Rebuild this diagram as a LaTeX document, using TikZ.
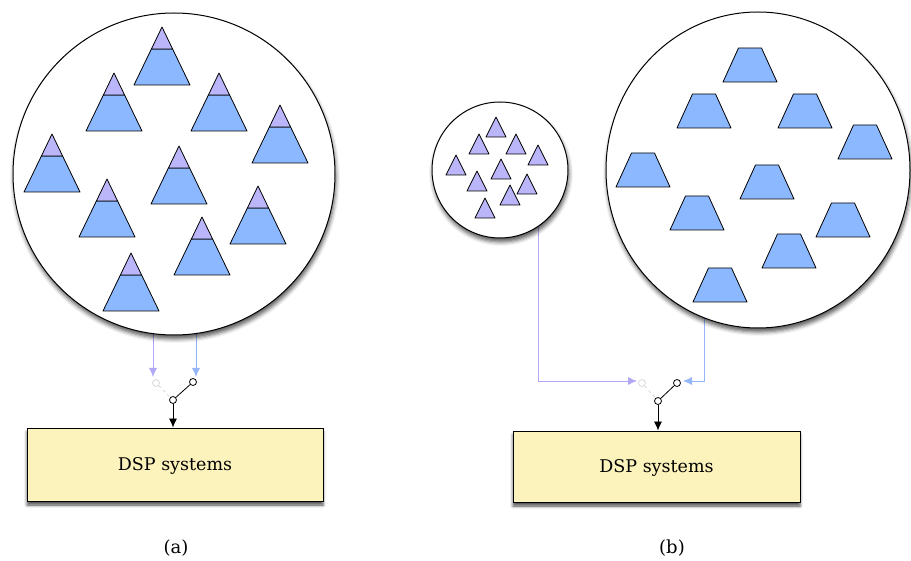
\documentclass[tikz,border=0pt]{standalone}
\usepackage{fontspec}
\setmainfont{DejaVu Serif}
\usetikzlibrary{shapes.geometric,arrows.meta,shadows.blur}

\definecolor{skyblue}{RGB}{140,184,255}
\definecolor{lilac}{RGB}{187,182,250}
\definecolor{paleyellow}{RGB}{252,242,188}
\definecolor{lilacline}{RGB}{178,168,248}
\definecolor{blueline}{RGB}{150,182,250}

\begin{document}
\begin{tikzpicture}[x=1pt,y=-1pt]
    \tikzstyle{pool}=[draw,line width=1pt,fill=white,inner sep=0pt,blur shadow={shadow xshift=1pt,shadow yshift=-4pt,shadow blur radius=4pt,shadow opacity=65}]
    \tikzstyle{hill}=[fill=skyblue,draw,line width=0.8pt,line join=round]
    \tikzstyle{peak}=[fill=lilac,draw,line width=0.8pt,line join=round]
    \tikzstyle{contact}=[circle,draw,fill=white,line width=0.8pt,inner sep=0pt,minimum size=7pt]
    \tikzstyle{offcontact}=[contact,draw=gray!30]
    \tikzstyle{dspbox}=[draw,line width=0.8pt,fill=paleyellow,font=\fontsize{17.5}{20}\selectfont,text depth=0pt,blur shadow={shadow xshift=0pt,shadow yshift=-4pt,shadow blur radius=3pt,shadow opacity=70}]
    \tikzstyle{caption}=[font=\fontsize{18}{21}\selectfont]
    \tikzset{>={Latex[length=9pt,width=8pt]}}

    \useasboundingbox (0,0) rectangle (911,561);

    % (a) one pool of composite signals
    \begin{scope}

    \coordinate (acenter) at (174,174);
    \coordinate (aleftin) at (153,377);
    \coordinate (arightin) at (196,377);
    \draw[lilacline,line width=0.8pt,->] (aleftin |- acenter) -- (aleftin);
    \draw[blueline,line width=0.8pt,->] (arightin |- acenter) -- (arightin);

    \node[pool,circle,minimum size=322pt](acircle) at (acenter){};
    \foreach \x/\y in {162/27,114/73,219/73,280/105,52/134,179/146,107/179,258/186,202/217,131/253}{
        \filldraw[hill] (\x-28,\y+58) -- (\x+28,\y+58) -- (\x+10.6,\y+22) -- (\x-10.6,\y+22) -- cycle;
        \filldraw[peak] (\x,\y) -- (\x+10.6,\y+22) -- (\x-10.6,\y+22) -- cycle;
    }

    \node[offcontact](aoff) at (156,383){};
    \node[contact](aon) at (193,382){};
    \node[contact](apivot) at (173,400){};
    \draw[gray!30,line width=0.8pt,dash pattern=on 3pt off 3pt] (aoff) -- (apivot);
    \draw[line width=0.8pt] (apivot) -- (aon);

    \node[dspbox,minimum width=296pt,minimum height=73pt](abox) at (175,464.5){DSP systems};
    \draw[line width=0.8pt,->] (apivot) -- (apivot |- abox.north);
    \node[caption](alabel) at (176,548){(a)};

    \end{scope}

    % (b) two separate pools
    \begin{scope}

    \coordinate (bsmallcenter) at (500,170);
    \coordinate (bbigcenter) at (758,170);
    \coordinate (bleftcorner) at (538,381);
    \coordinate (brightcorner) at (704,381);
    \coordinate (bleftin) at (637,381);
    \coordinate (brightin) at (683,381);
    \draw[lilacline,line width=0.8pt,->] (bleftcorner |- bsmallcenter) -- (bleftcorner) -- (bleftin);
    \draw[blueline,line width=0.8pt,->] (brightcorner |- bbigcenter) -- (brightcorner) -- (brightin);

    \node[pool,circle,minimum size=136pt](bsmall) at (bsmallcenter){};
    \foreach \x/\y in {496/117,479/134,516/134,538/145,456/155,501/159,477/171,527/174,510/185,485/198}{
        \filldraw[peak] (\x,\y) -- (\x+10,\y+20) -- (\x-10,\y+20) -- cycle;
    }

    \node[pool,ellipse,minimum width=304pt,minimum height=316pt](bbig) at (bbigcenter){};
    \foreach \x/\y in {750/48,704/94,805/94,865/125,643/153,767/165,697/196,843/203,789/234,720/268}{
        \filldraw[hill] (\x-27,\y+34) -- (\x+27,\y+34) -- (\x+11.5,\y) -- (\x-11.5,\y) -- cycle;
    }

    \node[offcontact](boff) at (642,383){};
    \node[contact](bon) at (677,383){};
    \node[contact](bpivot) at (658,401){};
    \draw[gray!30,line width=0.8pt,dash pattern=on 3pt off 3pt] (boff) -- (bpivot);
    \draw[line width=0.8pt] (bpivot) -- (bon);

    \node[dspbox,minimum width=287pt,minimum height=71pt](bbox) at (656.5,466.5){DSP systems};
    \draw[line width=0.8pt,->] (bpivot) -- (bpivot |- bbox.north);
    \node[caption](blabel) at (672,548){(b)};

    \end{scope}

\end{tikzpicture}
\end{document}
